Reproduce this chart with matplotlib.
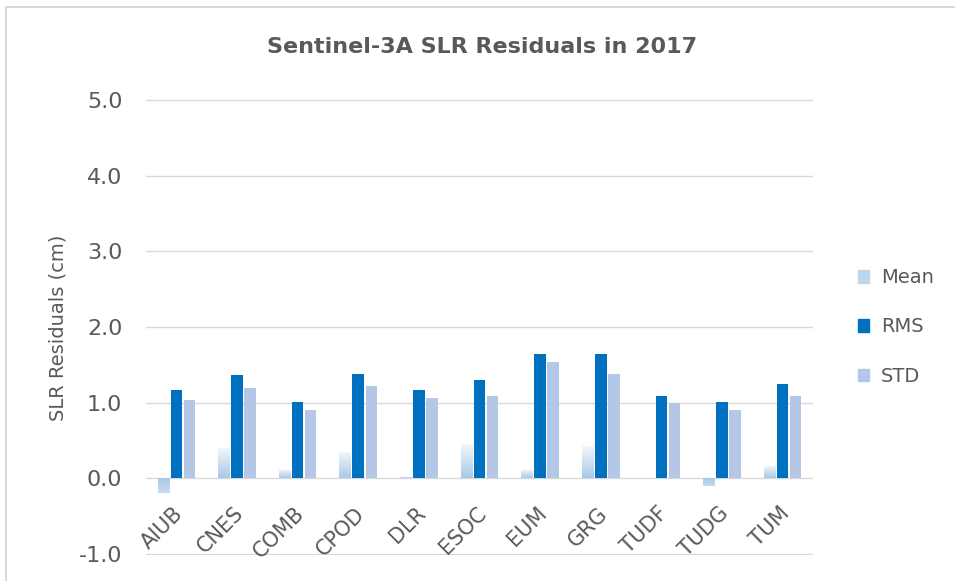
import numpy as np
import matplotlib.pyplot as plt
from matplotlib.colors import LinearSegmentedColormap
from matplotlib.patches import Patch
from matplotlib.lines import Line2D

centers = ["AIUB", "CNES", "COMB", "CPOD", "DLR", "ESOC", "EUM", "GRG", "TUDF", "TUDG", "TUM"]
mean = [-0.20, 0.40, 0.11, 0.35, 0.02, 0.46, 0.11, 0.43, 0.01, -0.10, 0.16]
rms = [1.17, 1.36, 1.01, 1.38, 1.17, 1.30, 1.64, 1.64, 1.09, 1.01, 1.25]
std = [1.04, 1.19, 0.90, 1.22, 1.06, 1.09, 1.54, 1.38, 1.00, 0.90, 1.09]

grey = "#595959"
rms_col = "#0070c0"
std_col = "#b4c7e7"
mean_col = "#bdd7ee"

fig = plt.figure(figsize=(9.55, 5.81), dpi=100)
ax = fig.add_axes([146 / 955, 26 / 581, 667 / 955, 456 / 581])

x = np.arange(len(centers))
w = 0.19
mean_bars = ax.bar(x - 0.215, mean, w, color="none", edgecolor="none")
ax.bar(x, rms, w, color=rms_col, zorder=2)
ax.bar(x + 0.215, std, w, color=std_col, zorder=2)

# gradient fill for the Mean bars (darker near zero, fading outward)
cmap = LinearSegmentedColormap.from_list("mean", ["#a8c9e8", "#f4f8fc"])
ramp = np.linspace(0, 1, 64).reshape(-1, 1)
for b, v in zip(mean_bars, mean):
    x0 = b.get_x()
    y0, y1 = sorted([0, v])
    data = ramp if v >= 0 else ramp[::-1] * 0.4
    im = ax.imshow(data, extent=[x0, x0 + w, y0, y1], origin="lower",
                   aspect="auto", cmap=cmap, vmin=0, vmax=1, zorder=2)
    im.set_clip_path(b)

ax.set_xlim(-0.5, len(centers) - 0.5)
ax.set_ylim(-1.013, 5.013)
ax.set_yticks(range(-1, 6))
ax.set_yticklabels([f"{v:.1f}" for v in range(-1, 6)])
ax.set_xticks([])
ax.tick_params(axis="y", length=0, pad=17, labelsize=16, labelcolor=grey)
ax.yaxis.grid(True, color="#d9d9d9", lw=1)
ax.set_axisbelow(True)
for s in ax.spines.values():
    s.set_visible(False)

for i, name in enumerate(centers):
    ax.text(i - 0.06, -0.33, name, rotation=45, rotation_mode="anchor",
            ha="right", va="top", fontsize=15, color=grey)

fig.text(482 / 955, 1 - 47 / 581, "Sentinel-3A SLR Residuals in 2017",
         ha="center", va="center", fontsize=16, fontweight="bold", color=grey)
fig.text(58 / 955, 1 - 328 / 581, "SLR Residuals (cm)", rotation=90,
         ha="center", va="center", fontsize=14, color=grey)

handles = [Patch(color=mean_col), Patch(color=rms_col), Patch(color=std_col)]
fig.legend(handles, ["Mean", "RMS", "STD"], loc="center left",
           bbox_to_anchor=(840 / 955, 1 - 327 / 581), frameon=False,
           fontsize=14, labelcolor=grey, handlelength=0.6, handleheight=0.6,
           handletextpad=0.6, labelspacing=1.55)

# chart border (top and left edges visible)
fig.add_artist(Line2D([6 / 955, 6 / 955, 1], [0, 1 - 7 / 581, 1 - 7 / 581],
                      transform=fig.transFigure, color="#d9d9d9", lw=1.5))

fig.savefig("out.png", dpi=100)
